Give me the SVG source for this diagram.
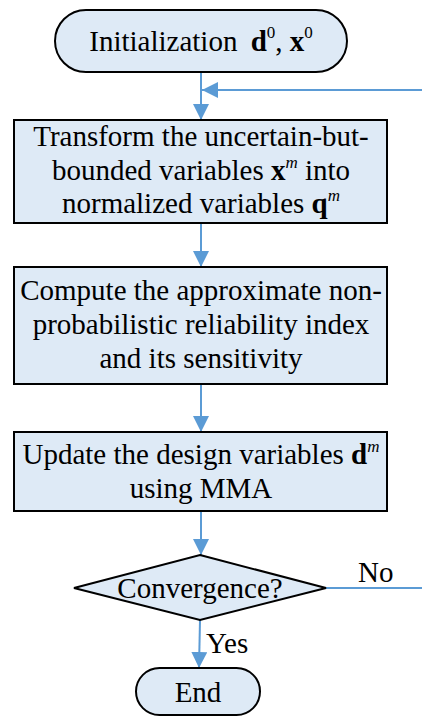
<svg xmlns="http://www.w3.org/2000/svg" width="422" height="716" viewBox="0 0 422 716">
<defs>
<style>
.shape{fill:#DEEAF6;stroke:#000;stroke-width:2}
.conn{fill:none;stroke:#5B9BD5;stroke-width:2}
text{font-family:"Liberation Serif","Times New Roman","DejaVu Serif",serif;font-size:29px;fill:#000}
.c{text-anchor:middle}
.b{font-weight:bold}
.sup{font-size:17px}
.it{font-style:italic}
</style>
<marker id="ah" viewBox="0 0 16 16" refX="16" refY="8" markerWidth="16" markerHeight="16" markerUnits="userSpaceOnUse" orient="auto">
<path d="M0,0 L16,8 L0,16 Z" fill="#5B9BD5"/>
</marker>
</defs>
<rect width="422" height="716" fill="#fff"/>
<g id="connectors">
<line class="conn" x1="201" y1="72" x2="201" y2="120" marker-end="url(#ah)"/>
<line class="conn" x1="422" y1="90" x2="202" y2="90" marker-end="url(#ah)"/>
<line class="conn" x1="201" y1="223" x2="201" y2="267" marker-end="url(#ah)"/>
<line class="conn" x1="201" y1="384" x2="201" y2="432" marker-end="url(#ah)"/>
<line class="conn" x1="201" y1="511" x2="201" y2="555" marker-end="url(#ah)"/>
<line class="conn" x1="326" y1="588" x2="422" y2="588"/>
<line class="conn" x1="200" y1="620" x2="199" y2="668" marker-end="url(#ah)"/>
<text x="358" y="582">No</text>
<text x="206" y="653">Yes</text>
</g>
<g id="init">
<rect class="shape" x="55" y="10" width="292" height="62" rx="31" ry="31"/>
<text x="201" y="51" class="c">Initialization <tspan class="b" dx="6">d</tspan><tspan class="sup" dy="-13">0</tspan><tspan dy="13">, </tspan><tspan class="b">x</tspan><tspan class="sup" dy="-13">0</tspan></text>
</g>
<g id="transform">
<rect class="shape" x="14" y="120" width="373" height="103"/>
<text x="201" y="146" class="c">Transform the uncertain-but-</text>
<text x="201" y="180" class="c">bounded variables <tspan class="b">x</tspan><tspan class="sup it" dy="-12">m</tspan><tspan dy="12"> into</tspan></text>
<text x="201" y="213" class="c">normalized variables <tspan class="b">q</tspan><tspan class="sup it" dy="-12">m</tspan></text>
</g>
<g id="compute">
<rect class="shape" x="14" y="267" width="373" height="117"/>
<text x="201" y="300" class="c">Compute the approximate non-</text>
<text x="201" y="334" class="c">probabilistic reliability index</text>
<text x="201" y="368" class="c">and its sensitivity</text>
</g>
<g id="update">
<rect class="shape" x="14" y="432" width="373" height="79"/>
<text x="201" y="464" class="c">Update the design variables <tspan class="b">d</tspan><tspan class="sup it" dy="-12">m</tspan></text>
<text x="201" y="498" class="c">using MMA</text>
</g>
<g id="convergence">
<polygon class="shape" points="200,555 326,588 200,620 74,588"/>
<text x="200" y="598" class="c">Convergence?</text>
</g>
<g id="end">
<rect class="shape" x="136" y="668" width="124" height="47" rx="23.5" ry="23.5"/>
<text x="198" y="702" class="c">End</text>
</g>
</svg>
